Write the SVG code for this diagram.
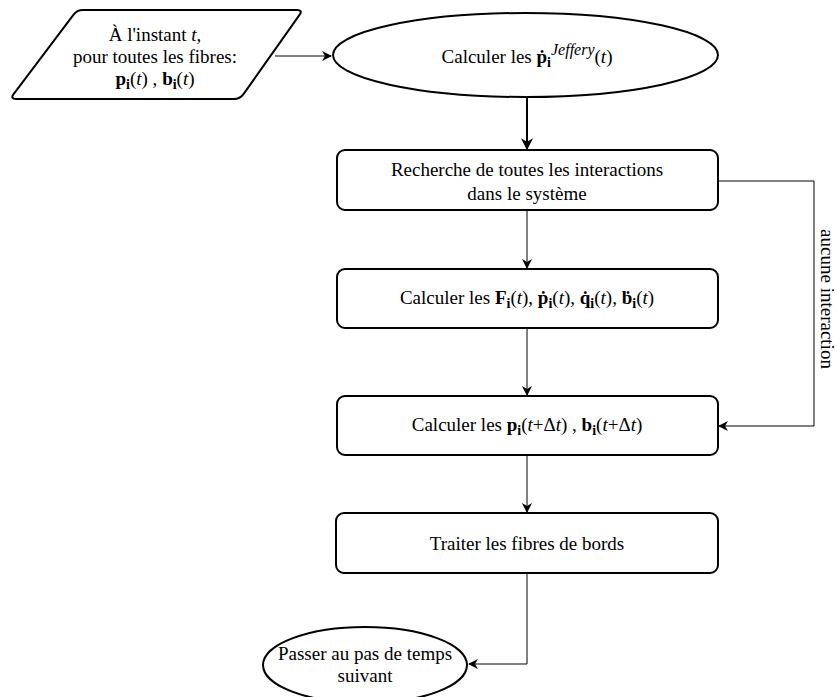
<svg xmlns="http://www.w3.org/2000/svg" width="837" height="697" viewBox="0 0 837 697">
<style>
  .shape { fill: #ffffff; stroke: #000000; stroke-width: 2; }
  .edge { fill: none; stroke: #000000; stroke-width: 1; }
  .edge2 { fill: none; stroke: #000000; stroke-width: 2; }
  text { font-family: "Liberation Serif", "Times New Roman", serif; font-size: 19px; fill: #000000; }
  .b { font-weight: bold; }
  .it { font-style: italic; }
  .sub { font-size: 14px; font-weight: bold; }
  .sup { font-size: 16px; font-style: italic; }
</style>
<defs>
  <marker id="arrow" viewBox="0 0 10 10" refX="9" refY="5" markerWidth="10" markerHeight="10" markerUnits="userSpaceOnUse" orient="auto">
    <path d="M0,0 L10,5 L0,10 L3,5 Z" fill="#000000"/>
  </marker>
  <marker id="arrowBig" viewBox="0 0 10 10" refX="9" refY="5" markerWidth="6" markerHeight="6" markerUnits="strokeWidth" orient="auto">
    <path d="M0,0 L10,5 L0,10 L3,5 Z" fill="#000000"/>
  </marker>
</defs>

<g id="connectors">
  <path class="edge" d="M275,56 L331,56" marker-end="url(#arrow)"/>
  <path class="edge2" d="M527,97 L527,149" marker-end="url(#arrowBig)"/>
  <path class="edge" d="M527,210 L527,268" marker-end="url(#arrow)"/>
  <path class="edge" d="M527,328 L527,395" marker-end="url(#arrow)"/>
  <path class="edge" d="M527,455 L527,512" marker-end="url(#arrow)"/>
  <path class="edge" d="M527,573 L527,664 L469,664" marker-end="url(#arrow)"/>
  <path class="edge" d="M718,181 L814,181 L814,426 L719,426" marker-end="url(#arrow)"/>
  <text transform="translate(821,299) rotate(90)" text-anchor="middle">aucune interaction</text>
</g>

<g id="input">
  <path class="shape" d="M83,10 L297,10 Q303,10 299.5,14.9 L243.5,94.1 Q240,99 234,99 L16,99 Q10,99 13.6,94.2 L73.4,14.8 Q77,10 83,10 Z"/>
  <text x="155" y="41" text-anchor="middle">À l'instant <tspan class="it">t,</tspan></text>
  <text x="155" y="63" text-anchor="middle">pour toutes les fibres:</text>
  <text x="155" y="85" text-anchor="middle"><tspan class="b">p</tspan><tspan class="sub" dy="4">i</tspan><tspan dy="-4">(</tspan><tspan class="it">t</tspan>) , <tspan class="b">b</tspan><tspan class="sub" dy="4">i</tspan><tspan dy="-4">(</tspan><tspan class="it">t</tspan>)</text>
</g>

<g id="jeffery">
  <ellipse class="shape" cx="525.5" cy="55" rx="192.5" ry="42"/>
  <text x="527" y="63" text-anchor="middle">Calculer les <tspan class="b">ṗ</tspan><tspan class="sub" dy="4">i</tspan><tspan class="sup" dy="-12">Jeffery</tspan><tspan dy="8">(</tspan><tspan class="it">t</tspan>)</text>
</g>

<g id="recherche">
  <rect class="shape" x="337" y="150" width="381" height="60" rx="8" ry="8"/>
  <text x="527" y="176" text-anchor="middle">Recherche de toutes les interactions</text>
  <text x="527" y="200" text-anchor="middle">dans le système</text>
</g>

<g id="forces">
  <rect class="shape" x="337" y="269" width="381" height="59" rx="8" ry="8"/>
  <text x="527" y="304" text-anchor="middle">Calculer les <tspan class="b">F</tspan><tspan class="sub" dy="4">i</tspan><tspan dy="-4">(</tspan><tspan class="it">t</tspan>), <tspan class="b">ṗ</tspan><tspan class="sub" dy="4">i</tspan><tspan dy="-4">(</tspan><tspan class="it">t</tspan>), <tspan class="b">q̇</tspan><tspan class="sub" dy="4">i</tspan><tspan dy="-4">(</tspan><tspan class="it">t</tspan>), <tspan class="b">ḃ</tspan><tspan class="sub" dy="4">i</tspan><tspan dy="-4">(</tspan><tspan class="it">t</tspan>)</text>
</g>

<g id="update">
  <rect class="shape" x="337" y="396" width="381" height="59" rx="8" ry="8"/>
  <text x="527" y="431" text-anchor="middle">Calculer les <tspan class="b">p</tspan><tspan class="sub" dy="4">i</tspan><tspan dy="-4">(</tspan><tspan class="it">t</tspan>+Δ<tspan class="it">t</tspan>) , <tspan class="b">b</tspan><tspan class="sub" dy="4">i</tspan><tspan dy="-4">(</tspan><tspan class="it">t</tspan>+Δ<tspan class="it">t</tspan>)</text>
</g>

<g id="bords">
  <rect class="shape" x="336" y="513" width="382" height="60" rx="8" ry="8"/>
  <text x="527" y="550" text-anchor="middle">Traiter les fibres de bords</text>
</g>

<g id="suivant">
  <ellipse class="shape" cx="365" cy="665" rx="102" ry="38"/>
  <text x="365" y="660" text-anchor="middle">Passer au pas de temps</text>
  <text x="365" y="682" text-anchor="middle">suivant</text>
</g>
</svg>
